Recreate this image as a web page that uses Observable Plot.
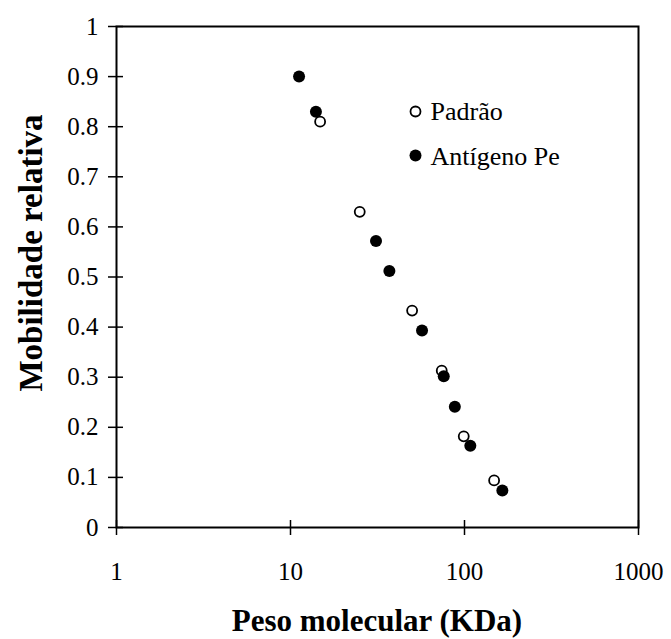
<!DOCTYPE html>
<html>
<head>
<meta charset="utf-8">
<script src="https://cdn.jsdelivr.net/npm/d3@7"></script>
<script src="https://cdn.jsdelivr.net/npm/@observablehq/plot@0.6"></script>
<style>
  html, body { margin: 0; padding: 0; background: #fff; }
  #chart { position: relative; width: 671px; height: 639px; }
  svg { font-family: "Liberation Serif", "Times New Roman", serif; }
</style>
</head>
<body>
<div id="chart"></div>
<script>
// Padrão (standard, open circles)
const padraoPeso = [14.8, 25, 50, 74, 99, 148];
const padraoMob  = [0.81, 0.63, 0.433, 0.313, 0.182, 0.094];
// Antígeno Pe (filled circles)
const antigenoPeso = [11.2, 14, 31, 37, 57, 76, 88, 108, 165];
const antigenoMob  = [0.90, 0.83, 0.572, 0.512, 0.393, 0.302, 0.241, 0.163, 0.074];

const xTicks = [1, 10, 100, 1000];
const yTicks = [0, 0.1, 0.2, 0.3, 0.4, 0.5, 0.6, 0.7, 0.8, 0.9, 1];
const legendLabels = ["Padrão", "Antígeno Pe"];
const xTitle = "Peso molecular (KDa)";
const yTitle = "Mobilidade relativa";

const padrao = padraoPeso.map((x, i) => ({x, y: padraoMob[i]}));
const antigeno = antigenoPeso.map((x, i) => ({x, y: antigenoMob[i]}));
const legend = legendLabels.map((label, i) => ({label, i}));
const FONT = '"Liberation Serif", "Times New Roman", serif';

const chart = Plot.plot({
  width: 671,
  height: 639,
  marginLeft: 116,
  marginRight: 33,
  marginTop: 26,
  marginBottom: 112,
  style: {fontFamily: FONT, background: "#fff", color: "#000"},
  x: {type: "log", domain: [1, 1000]},
  y: {domain: [0, 1]},
  marks: [
    // crossing ticks
    Plot.axisY(yTicks, {anchor: "left", tickSize: 15, dx: 7, text: null, label: null, strokeWidth: 1.5}),
    Plot.axisY(yTicks, {anchor: "left", tickSize: 0, tickPadding: 18, fontSize: 25, label: null, tickFormat: d => String(d)}),
    Plot.axisX(xTicks, {anchor: "bottom", tickSize: 15, dy: -7, text: null, label: null, strokeWidth: 1.5}),
    Plot.axisX(xTicks, {anchor: "bottom", tickSize: 0, tickPadding: 35, fontSize: 25, label: null, tickFormat: d => String(d)}),
    Plot.frame({stroke: "#000", strokeWidth: 2}),
    Plot.dot(padrao, {x: "x", y: "y", r: 5, stroke: "#000", strokeWidth: 1.8, fill: "#fff"}),
    Plot.dot(antigeno, {x: "x", y: "y", r: 6, fill: "#000", stroke: "none"}),
    // legend
    Plot.dot(legend, {frameAnchor: "top-left", dx: 299, dy: 85, r: 5, stroke: "#000", strokeWidth: 1.8, fill: "#fff", filter: d => d.i === 0}),
    Plot.dot(legend, {frameAnchor: "top-left", dx: 299, dy: 129, r: 6, fill: "#000", filter: d => d.i === 1}),
    Plot.text(legend, {frameAnchor: "top-left", text: "label", dx: 314, dy: 85, filter: d => d.i === 0, textAnchor: "start", lineAnchor: "middle", fontSize: 26, fill: "#000"}),
    Plot.text(legend, {frameAnchor: "top-left", text: "label", dx: 314, dy: 130, filter: d => d.i === 1, textAnchor: "start", lineAnchor: "middle", fontSize: 26, fill: "#000"})
  ]
});

const svg = d3.select(chart);
svg.append("text")
  .attr("x", 377).attr("y", 631)
  .attr("text-anchor", "middle")
  .attr("font-size", 31).attr("font-weight", "bold")
  .attr("font-family", FONT)
  .attr("fill", "#000")
  .text(xTitle);
svg.append("text")
  .attr("transform", "translate(42,253) rotate(-90)")
  .attr("text-anchor", "middle")
  .attr("font-size", 33).attr("font-weight", "bold")
  .attr("font-family", FONT)
  .attr("fill", "#000")
  .text(yTitle);

document.getElementById("chart").appendChild(chart);
</script>
</body>
</html>
